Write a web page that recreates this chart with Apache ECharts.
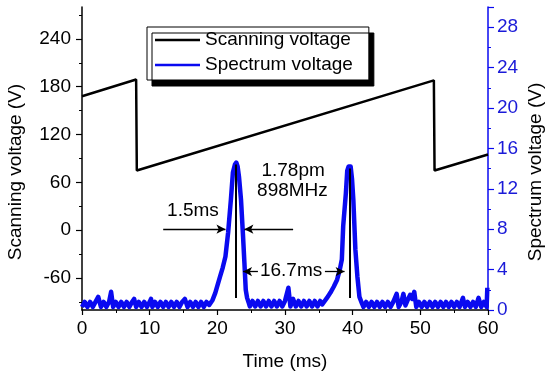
<!DOCTYPE html>
<html>
<head>
<meta charset="utf-8">
<script src="https://cdn.jsdelivr.net/npm/echarts@6/dist/echarts.min.js"></script>
<style>
html,body{margin:0;padding:0;background:#fff;}
#chart{width:550px;height:377px;}
</style>
</head>
<body>
<div id="chart"></div>
<script>
// ---- data ----
const scanTime = [0, 8, 8.1, 52, 52.1, 60];
const scanVolt = [168, 189, 75, 188, 75, 95];

const specTime = [
  0,0.4,0.8,1.2,1.6,2.0,2.4,2.8,3.2,3.6,4.0,4.3,4.6,5.0,5.4,5.8,6.2,6.6,7.0,7.4,7.7,8.0,8.4,8.8,9.2,9.6,10.0,10.2,10.4,10.8,
  11.2,11.6,12.0,12.4,12.8,13.2,13.6,14.0,14.4,14.8,15.2,15.6,16.0,16.4,16.8,17.2,17.6,18.0,18.4,18.8,
  19.0,19.3,19.7,20.0,20.4,20.8,21.2,21.6,22.0,22.3,22.6,22.8,23.0,23.2,23.5,23.8,24.0,24.2,24.4,24.6,
  24.8,25.2,25.6,26.0,26.4,26.8,27.2,27.6,28.0,28.4,28.8,29.2,29.6,30.0,30.5,30.8,31.2,31.6,32.0,32.4,32.8,33.2,33.6,34.0,34.4,34.8,35.2,35.5,
  35.7,36.2,36.7,37.2,37.7,38.1,38.4,38.6,39.0,39.2,39.4,39.7,39.9,40.1,40.4,40.7,41.0,41.4,
  41.6,42.0,42.4,42.8,43.2,43.6,44.0,44.4,44.8,45.2,45.6,46.0,46.5,46.8,47.2,47.5,47.8,48.2,48.5,48.8,49.1,49.4,49.8,
  50.2,50.6,51.0,51.4,51.8,52.2,52.6,53.0,53.4,53.8,54.2,54.6,55.0,55.4,55.8,56.3,56.6,57.0,57.4,57.8,58.2,58.6,59.0,59.4,59.8,59.9,60
];
const specVolt = [
  0.3,0.8,0.3,0.8,0.3,0.8,1.3,0.3,0.8,0.3,0.8,1.8,0.3,0.8,0.3,0.8,0.3,0.8,0.3,0.8,1.1,0.3,0.8,0.3,0.8,0.3,0.8,1.1,0.3,0.8,
  0.3,0.8,0.3,0.8,0.3,0.8,0.3,0.8,0.3,0.8,1.1,0.3,0.8,0.3,0.8,0.3,0.8,0.3,0.8,0.5,
  0.6,1.0,1.7,2.4,3.3,4.2,5.3,7.7,10.9,13.6,14.4,14.6,14.2,13.2,10.9,7.3,4.7,2.0,1.2,0.8,
  0.35,0.9,0.35,0.9,0.35,0.9,0.35,0.9,0.35,0.9,0.35,0.9,0.35,0.9,2.2,0.35,1.1,0.35,0.9,0.35,0.9,0.35,0.9,0.35,0.9,0.35,0.9,0.55,
  0.7,1.2,1.7,2.3,3.0,4.0,5.0,8.3,11.6,13.8,14.2,14.2,13.0,10.9,6.0,3.3,1.3,0.6,
  0.3,0.8,0.3,0.8,0.3,0.8,0.3,0.8,0.3,0.8,0.3,0.8,1.6,0.3,0.8,1.6,0.45,1.1,1.5,1.1,1.8,0.3,0.8,
  0.3,0.8,0.3,0.8,0.3,0.8,0.3,0.8,0.3,0.8,0.3,0.8,0.3,0.8,0.3,1.2,0.3,0.8,0.3,0.8,0.3,1.2,0.3,0.8,0.3,2.2,2.2
];

const xTicks = [0, 10, 20, 30, 40, 50, 60];
const leftLabels = [-60, 0, 60, 120, 180, 240];
const leftMinor = [-90, -30, 30, 90, 150, 210, 270];

// annotation geometry (ms, spectrum V)
const arrowLines = [
  [[12.0, 8.0], [21.2, 8.0]],
  [[31.2, 8.0], [24.0, 8.0]],
  [[26.0, 3.8], [23.8, 3.8]],
  [[35.9, 3.8], [38.8, 3.8]]
];
const markerLines = [
  [[22.7, 1.2], [22.7, 14.4]],
  [[39.5, 1.2], [39.5, 14.0]]
];
const annotTexts = [
  ['1.5ms', 16.4, 9.85],
  ['1.78pm', 31.2, 13.8],
  ['898MHz', 31.1, 11.8],
  ['16.7ms', 30.9, 3.9]
];

const FONT = 'Liberation Sans, Arial, sans-serif';
const BLUE = '#0a0af0';
const BLUE_TXT = '#1a1ad8';

const chart = echarts.init(document.getElementById('chart'), null, {renderer: 'canvas'});

const markLineData = [];
arrowLines.forEach(a => markLineData.push([
  {coord: a[0], symbol: 'none', lineStyle: {color: '#000', width: 1.3, type: 'solid'}},
  {coord: a[1], symbol: 'arrow', symbolSize: [7, 9]}
]));
markerLines.forEach(a => markLineData.push([
  {coord: a[0], symbol: 'none', lineStyle: {color: '#000', width: 2, type: 'solid'}},
  {coord: a[1], symbol: 'none'}
]));

const option = {
  animation: false,
  textStyle: {fontFamily: FONT},
  grid: {left: 82, right: 62, top: 7, bottom: 67},
  legend: {
    left: 147, top: 27,
    orient: 'vertical',
    icon: 'rect',
    itemWidth: 45, itemHeight: 2.5,
    itemGap: 3,
    padding: [2, 16, 4, 8],
    backgroundColor: '#fff',
    borderColor: '#000', borderWidth: 1,
    shadowColor: '#000', shadowBlur: 0, shadowOffsetX: 5, shadowOffsetY: 6,
    textStyle: {fontSize: 19, color: '#000', fontFamily: FONT, lineHeight: 22},
    data: ['Scanning voltage', 'Spectrum voltage']
  },
  xAxis: {
    type: 'value', min: 0, max: 60, interval: 10,
    axisLine: {onZero: false, lineStyle: {color: '#000', width: 1.5}},
    axisTick: {length: 5, lineStyle: {color: '#000', width: 1.2}},
    minorTick: {show: true, splitNumber: 2, length: 3, lineStyle: {color: '#000', width: 1}},
    splitLine: {show: false},
    axisLabel: {fontSize: 19, color: '#000', margin: 9, fontFamily: FONT},
    name: 'Time (ms)', nameLocation: 'middle', nameGap: 42,
    nameTextStyle: {fontSize: 19, color: '#000', fontFamily: FONT}
  },
  yAxis: [
    {
      type: 'value', min: -100, max: 280, position: 'left',
      axisLine: {show: true, onZero: false, lineStyle: {color: '#000', width: 1.5}},
      axisTick: {show: true, length: 6, customValues: leftLabels, lineStyle: {color: '#000', width: 1.2}},
      axisLabel: {fontSize: 19, color: '#000', margin: 11, customValues: leftLabels, fontFamily: FONT},
      splitLine: {show: false}
    },
    {
      type: 'value', min: 0, max: 30, interval: 4, position: 'right',
      axisLine: {show: true, onZero: false, lineStyle: {color: BLUE, width: 1.5}},
      axisTick: {show: true, length: 6, lineStyle: {color: BLUE, width: 1.2}},
      minorTick: {show: true, splitNumber: 2, length: 3, lineStyle: {color: BLUE, width: 1}},
      axisLabel: {fontSize: 19, color: BLUE_TXT, margin: 9, showMaxLabel: false, fontFamily: FONT},
      splitLine: {show: false}
    },
    {
      type: 'value', min: -100, max: 280, position: 'left',
      axisLine: {show: false, onZero: false},
      axisTick: {show: true, length: 3, customValues: leftMinor, lineStyle: {color: '#000', width: 1}},
      axisLabel: {show: false},
      splitLine: {show: false}
    }
  ],
  series: [
    {
      name: 'Scanning voltage', type: 'line', yAxisIndex: 0,
      data: scanTime.map((t, i) => [t, scanVolt[i]]),
      showSymbol: false, symbol: 'none',
      color: '#000',
      lineStyle: {color: '#000', width: 2.5},
      silent: true
    },
    {
      name: 'Spectrum voltage', type: 'line', yAxisIndex: 1,
      data: specTime.map((t, i) => [t, specVolt[i]]),
      showSymbol: false, symbol: 'none',
      color: BLUE,
      lineStyle: {color: BLUE, width: 4.5, join: 'round'},
      silent: true,
      markLine: {
        silent: true, animation: false,
        label: {show: false},
        emphasis: {disabled: true},
        symbolSize: [7, 9],
        data: markLineData
      }
    }
  ]
};
chart.setOption(option);

const graphics = annotTexts.map(a => {
  const p = chart.convertToPixel({xAxisIndex: 0, yAxisIndex: 1}, [a[1], a[2]]);
  return {
    type: 'text', x: p[0], y: p[1], z: 100,
    style: {text: a[0], fontSize: 19, fontFamily: FONT, fill: '#000', align: 'center', verticalAlign: 'middle'}
  };
});
graphics.push({
  type: 'text', x: 16, y: 172, rotation: Math.PI / 2, z: 100,
  style: {text: 'Scanning voltage (V)', fontSize: 19, fontFamily: FONT, fill: '#000', align: 'center', verticalAlign: 'middle'}
});
graphics.push({
  type: 'text', x: 536, y: 172, rotation: Math.PI / 2, z: 100,
  style: {text: 'Spectrum voltage (V)', fontSize: 19, fontFamily: FONT, fill: '#000', align: 'center', verticalAlign: 'middle'}
});
chart.setOption({graphic: graphics});
</script>
</body>
</html>
